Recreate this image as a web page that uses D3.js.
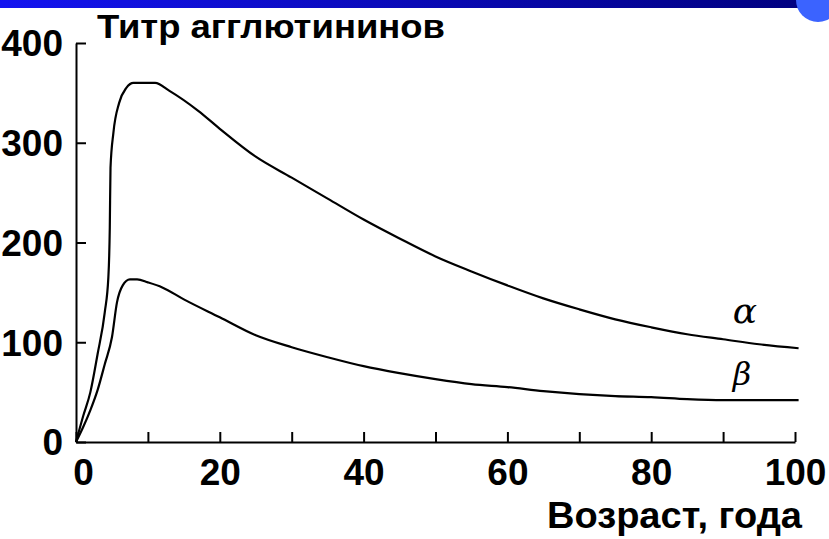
<!DOCTYPE html>
<html>
<head>
<meta charset="utf-8">
<script src="https://cdn.jsdelivr.net/npm/d3@7"></script>
<style>
  body { margin: 0; background: #fff; }
  svg { display: block; }
</style>
</head>
<body>
<svg id="chart" width="829" height="539"></svg>
<script>
(() => {
    // values
    const alphaAge = [0, 1, 2, 3, 4, 4.5, 4.7, 4.8, 5.2, 6, 7, 8, 11, 13, 17, 20, 25, 30, 35, 40, 45, 50, 55, 60, 65, 70, 75, 80, 85, 90, 95, 100.5];
    const alphaTiter = [0, 26, 50, 88, 130, 165, 215, 275, 310, 340, 355, 360, 360, 352, 332, 314, 286, 265, 244, 223, 204, 186, 171, 157, 144, 133, 123, 115, 108, 103, 98, 94];
    const betaAge = [0, 1, 2, 3, 4, 5, 5.7, 6.5, 7.5, 8.5, 10, 12, 15, 20, 25, 30, 35, 40, 45, 50, 55, 60, 65, 70, 75, 80, 85, 90, 95, 100.5];
    const betaTiter = [0, 15, 32, 52, 78, 105, 140, 157, 163, 163, 160, 155, 143, 125, 107, 95, 85, 76, 69, 63, 58, 55, 51, 48, 46, 45, 43, 42, 42, 42];
    const xTicks = [0, 10, 20, 30, 40, 50, 60, 70, 80, 90, 100];
    const xLabels = [0, 20, 40, 60, 80, 100];
    const yTicks = [0, 100, 200, 300, 400];

    const svg = d3.select("#chart");

    // blue header strip
    const defs = svg.append("defs");
    const grad = defs.append("linearGradient").attr("id", "bar");
    grad.append("stop").attr("offset", "0%").attr("stop-color", "#1414f0");
    grad.append("stop").attr("offset", "100%").attr("stop-color", "#00007c");
    svg.append("rect").attr("x", 0).attr("y", 0).attr("width", 829).attr("height", 8).attr("fill", "url(#bar)");
    svg.append("circle").attr("cx", 818).attr("cy", 0).attr("r", 22).attr("fill", "#3b63ff");

    const x = d3.scaleLinear().domain([0, 100]).range([76, 795]);
    const y = d3.scaleLinear().domain([0, 400]).range([442, 43]);

    const numFont = "'Liberation Sans', Arial, sans-serif";

    const xAxis = svg.append("g")
        .attr("transform", `translate(0,${y(0)})`)
        .call(d3.axisBottom(x)
            .tickValues(xTicks)
            .tickSizeInner(-10)
            .tickSizeOuter(0)
            .tickPadding(17)
            .tickFormat(d => xLabels.includes(d) ? d : ""));

    const yAxis = svg.append("g")
        .attr("transform", `translate(${x(0)},0)`)
        .call(d3.axisLeft(y)
            .tickValues(yTicks)
            .tickSizeInner(-10)
            .tickSizeOuter(0)
            .tickPadding(13));

    [xAxis, yAxis].forEach(g => {
        g.select(".domain").attr("stroke", "#000").attr("stroke-width", 2);
        g.selectAll(".tick line").attr("stroke", "#000").attr("stroke-width", 2);
        g.selectAll(".tick text")
            .attr("fill", "#000")
            .style("font-family", numFont)
            .style("font-weight", "bold")
            .style("font-size", "37px");
    });
    yAxis.selectAll(".tick text").attr("dy", "0.35em");
    // the "0" under the origin sits a little right of its tick
    xAxis.selectAll(".tick text").filter(d => d === 0).attr("dx", 7);

    const line = d3.line()
        .x(d => x(d[0]))
        .y(d => y(d[1]))
        .curve(d3.curveMonotoneX);

    const series = [
        d3.zip(alphaAge, alphaTiter),
        d3.zip(betaAge, betaTiter)
    ];

    svg.selectAll(".curve")
        .data(series)
        .enter()
        .append("path")
        .attr("class", "curve")
        .attr("d", line)
        .attr("fill", "none")
        .attr("stroke", "#000")
        .attr("stroke-width", 2.2);

    // titles
    svg.append("text")
        .attr("x", 97)
        .attr("y", 38)
        .attr("textLength", 348)
        .attr("lengthAdjust", "spacingAndGlyphs")
        .style("font-family", numFont)
        .style("font-weight", "bold")
        .style("font-size", "34px")
        .text("Титр агглютининов");

    svg.append("text")
        .attr("x", 547)
        .attr("y", 528)
        .attr("textLength", 255)
        .attr("lengthAdjust", "spacingAndGlyphs")
        .style("font-family", numFont)
        .style("font-weight", "bold")
        .style("font-size", "36px")
        .text("Возраст, года");

    // curve labels
    const labelFont = "'DejaVu Serif', serif";
    svg.append("text")
        .attr("x", 745)
        .attr("y", 323)
        .attr("text-anchor", "middle")
        .style("font-family", labelFont)
        .style("font-style", "italic")
        .style("font-size", "36px")
        .text("α");

    svg.append("text")
        .attr("x", 742)
        .attr("y", 385)
        .attr("text-anchor", "middle")
        .style("font-family", labelFont)
        .style("font-style", "italic")
        .style("font-size", "32px")
        .text("β");
})();
</script>
</body>
</html>
